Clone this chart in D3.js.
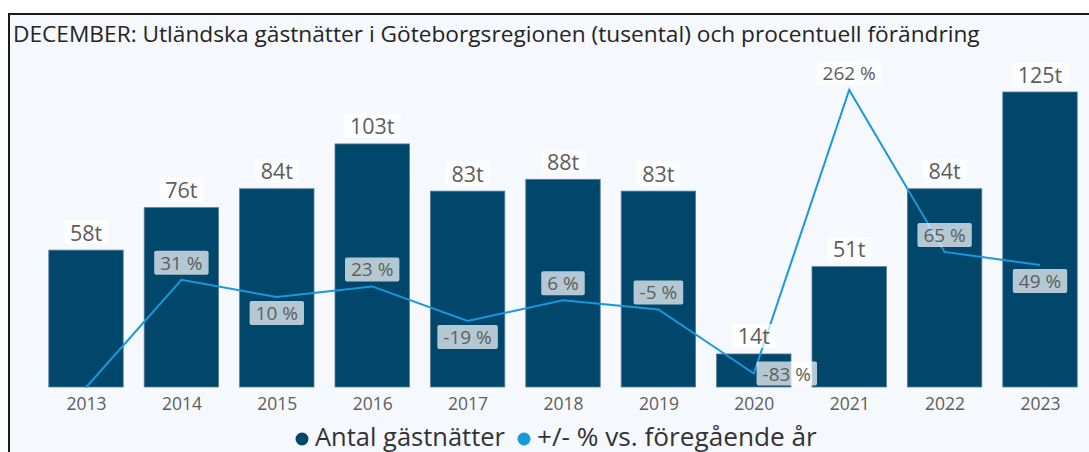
<!DOCTYPE html>
<html>
<head>
<meta charset="utf-8">
<script src="https://cdn.jsdelivr.net/npm/d3@7"></script>
<style>
  body { margin: 0; background: #fff; }
  svg { display: block; }
  text { font-family: "Open Sans", "Noto Sans", sans-serif; }
</style>
</head>
<body>
<div id="chart"></div>
<script>
// data
var years = ["2013", "2014", "2015", "2016", "2017", "2018", "2019", "2020", "2021", "2022", "2023"];
var guests = [58, 76, 84, 103, 83, 88, 83, 14, 51, 84, 125];          // tusental
var pctChange = [-100, 31, 10, 23, -19, 6, -5, -83, 262, 65, 49];      // % vs. föregående år
var pctText = [null, "31 %", "10 %", "23 %", "-19 %", "6 %", "-5 %", "-83 %", "262 %", "65 %", "49 %"];
var seriesNames = ["Antal gästnätter", "+/- % vs. föregående år"];
var titleText = "DECEMBER: Utländska gästnätter i Göteborgsregionen (tusental) och procentuell förändring";

// where each % label sits next to its point
var pctSide = ["none", "above", "below", "above", "below", "above", "above", "right", "above", "above", "below"];

var width = 1089, height = 452;
var barColor = "#01476b", lineColor = "#1a98dc", textGray = "#605e5c";

var svg = d3.select("#chart").append("svg")
    .attr("width", width)
    .attr("height", height);

// frame (runs off the right and bottom edge)
svg.append("rect")
    .attr("x", 9).attr("y", 14)
    .attr("width", 1200).attr("height", 600)
    .attr("fill", "#f5f8fc")
    .attr("stroke", "#1b1b1b")
    .attr("stroke-width", 2);

// shrink/grow font so text spans a given width
function fitFont(sel, base, target) {
  sel.style("font-size", base + "px");
  var w = sel.node().getComputedTextLength();
  sel.style("font-size", (base * target / w) + "px");
}

var title = svg.append("text")
    .attr("x", 13).attr("y", 42)
    .attr("fill", "#252423")
    .text(titleText);
fitFont(title, 22, 967);

// scales
var x = d3.scalePoint().domain(years).range([86, 1040]);
var barW = x.step() * 0.78;
var y = d3.scaleLinear().domain([0, 125]).range([387, 92]);
var y2 = d3.scaleLinear().domain([-83, 262]).range([373.5, 90]);

// bars
svg.selectAll(".bar")
  .data(years)
  .enter().append("rect")
    .attr("class", "bar")
    .attr("x", function(d) { return x(d) - barW / 2; })
    .attr("y", function(d, i) { return y(guests[i]); })
    .attr("width", barW)
    .attr("height", function(d, i) { return y(0) - y(guests[i]); })
    .attr("fill", barColor)
    .attr("stroke", "#5a7f97")
    .attr("stroke-width", 0.8);

// x axis
var xAxis = svg.append("g")
    .attr("transform", "translate(0," + y(0) + ")")
    .call(d3.axisBottom(x).tickSize(0).tickPadding(11));
xAxis.select(".domain").remove();
xAxis.selectAll("text")
    .style("font-size", "17.5px")
    .style("font-family", "'Open Sans', sans-serif")
    .attr("fill", textGray);

// line
var line = d3.line()
    .x(function(d) { return x(d); })
    .y(function(d, i) { return y2(pctChange[i]); });

svg.append("path")
    .datum(years)
    .attr("d", line)
    .attr("fill", "none")
    .attr("stroke", lineColor)
    .attr("stroke-width", 2);

// label with semi-transparent white box
function boxLabel(cx, cy, txt, size) {
  var g = svg.append("g");
  var box = g.append("rect");
  var t = g.append("text")
      .attr("x", cx).attr("y", cy)
      .attr("text-anchor", "middle")
      .attr("dominant-baseline", "central")
      .style("font-size", size + "px")
      .attr("fill", textGray)
      .text(txt);
  var bb = t.node().getBBox();
  box.attr("x", bb.x - 6).attr("y", cy - 12)
      .attr("width", bb.width + 12).attr("height", 24)
      .attr("rx", 2)
      .attr("fill", "#fff")
      .attr("fill-opacity", 0.7);
  return bb;
}

// bar value labels
years.forEach(function(d, i) {
  boxLabel(x(d), y(guests[i]) - 18, guests[i] + "t", 21.5);
});

// % labels
years.forEach(function(d, i) {
  if (!pctText[i]) return;
  var px = x(d), py = y2(pctChange[i]);
  var side = pctSide[i];
  if (side === "above") boxLabel(px, py - 17, pctText[i], 19);
  else if (side === "below") boxLabel(px, py + 16, pctText[i], 19);
  else boxLabel(px + 33, py, pctText[i], 19);
});

// legend
var legend = svg.append("g");
var legColors = [barColor, lineColor];
var legDot = [302, 524];
var legText = [315, 537];
var legWidth = [190, 280];
seriesNames.forEach(function(name, i) {
  legend.append("circle")
      .attr("cx", legDot[i]).attr("cy", 439).attr("r", 6.5)
      .attr("fill", legColors[i]);
  var t = legend.append("text")
      .attr("x", legText[i]).attr("y", 446)
      .attr("fill", "#333")
      .text(name);
  fitFont(t, 24, legWidth[i]);
});
</script>
</body>
</html>
